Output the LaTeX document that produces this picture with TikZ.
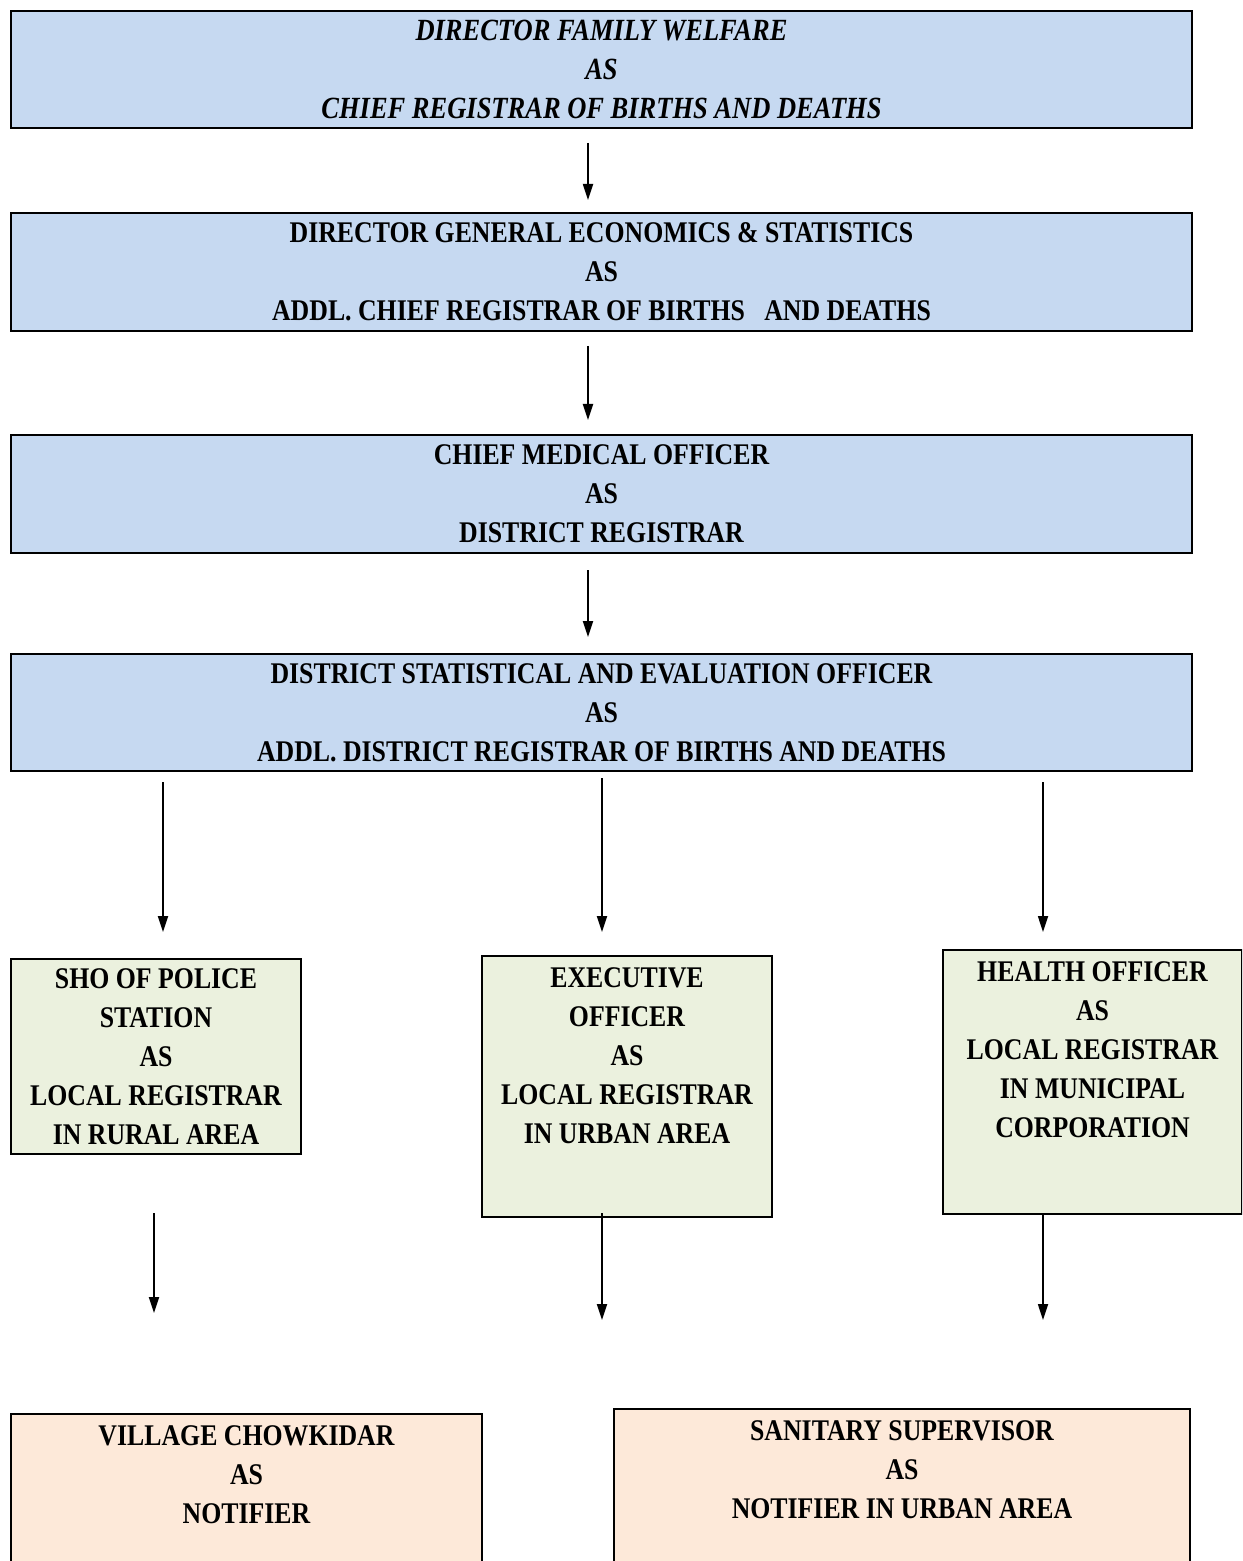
\documentclass[tikz,border=0pt]{standalone}
\usepackage{fontspec}
\setmainfont{Liberation Serif}[FakeStretch=0.86]
\usetikzlibrary{arrows.meta}

\definecolor{headblue}{HTML}{C6D9F1}
\definecolor{localgreen}{HTML}{EBF1DE}
\definecolor{notifpeach}{HTML}{FDE9D9}

\begin{document}
\begin{tikzpicture}[x=0.5pt, y=-0.5pt,
    box/.style={draw, line width=1pt, anchor=north west, align=center, inner xsep=2pt, inner ysep=2.5pt,
        font=\fontsize{15}{19.5}\selectfont\bfseries},
    topbox/.style={box, inner ysep=6pt},
    link/.style={line width=0.9pt, -{Triangle[length=8pt, width=5pt]}}]
\useasboundingbox (0,0) rectangle (1242,1561);
\clip (0,0) rectangle (1242,1561);

% Registrars in the chain
\node[box, fill=headblue, minimum width=590.5pt, minimum height=58.5pt, font=\fontsize{15.4}{19.5}\selectfont\bfseries\itshape] (dfw) at (10,10)
    {DIRECTOR FAMILY WELFARE\\ AS\\ CHIEF REGISTRAR OF BIRTHS AND DEATHS};
\node[box, fill=headblue, minimum width=590.5pt, minimum height=59pt] (dges) at (10,212)
    {DIRECTOR GENERAL ECONOMICS \& STATISTICS\\ AS\\ ADDL. CHIEF REGISTRAR OF BIRTHS\ \ \ AND DEATHS};
\node[box, fill=headblue, minimum width=590.5pt, minimum height=59pt] (cmo) at (10,434)
    {CHIEF MEDICAL OFFICER\\ AS\\ DISTRICT REGISTRAR};
\node[box, fill=headblue, minimum width=590.5pt, minimum height=58.5pt] (dseo) at (10,653)
    {DISTRICT STATISTICAL AND EVALUATION OFFICER\\ AS\\ ADDL. DISTRICT REGISTRAR OF BIRTHS AND DEATHS};

% Local registrars
\node[box, fill=localgreen, minimum width=145pt, minimum height=97.5pt] (sho) at (10,958)
    {SHO OF POLICE\\ STATION\\ AS\\ LOCAL REGISTRAR\\ IN RURAL AREA};
\node[topbox, fill=localgreen, minimum width=145pt, text depth=30.5pt] (exec) at (481,955)
    {EXECUTIVE\\ OFFICER\\ AS\\ LOCAL REGISTRAR\\ IN URBAN AREA};
\node[topbox, fill=localgreen, minimum width=149.5pt, text depth=32pt] (health) at (942,949)
    {HEALTH OFFICER\\ AS\\ LOCAL REGISTRAR\\ IN MUNICIPAL\\ CORPORATION};

% Notifiers
\node[topbox, fill=notifpeach, minimum width=235.5pt, text depth=33pt] (chowkidar) at (10,1413)
    {VILLAGE CHOWKIDAR\\ AS\\ NOTIFIER};
\node[topbox, fill=notifpeach, minimum width=288pt, text depth=35pt] (sanitary) at (613,1408)
    {SANITARY SUPERVISOR\\ AS\\ NOTIFIER IN URBAN AREA};

% Arrows
\coordinate (dfw-out) at (588,143);    \coordinate (dges-in) at (588,200);
\coordinate (dges-out) at (588,346);   \coordinate (cmo-in) at (588,420);
\coordinate (cmo-out) at (588,570);    \coordinate (dseo-in) at (588,637);
\draw[link] (dfw-out) -- (dges-in);
\draw[link] (dges-out) -- (cmo-in);
\draw[link] (cmo-out) -- (dseo-in);

\coordinate (dseo-out1) at (163,782);  \coordinate (sho-in) at (163,932);
\coordinate (dseo-out2) at (602,778);  \coordinate (exec-in) at (602,932);
\coordinate (dseo-out3) at (1043,782); \coordinate (health-in) at (1043,932);
\draw[link] (dseo-out1) -- (sho-in);
\draw[link] (dseo-out2) -- (exec-in);
\draw[link] (dseo-out3) -- (health-in);

\coordinate (sho-out) at (154,1213);    \coordinate (chowkidar-in) at (154,1313);
\coordinate (exec-out) at (602,1213);   \coordinate (exec-end) at (602,1320);
\coordinate (health-out) at (1043,1213); \coordinate (health-end) at (1043,1320);
\draw[link] (sho-out) -- (chowkidar-in);
\draw[link] (exec-out) -- (exec-end);
\draw[link] (health-out) -- (health-end);
\end{tikzpicture}
\end{document}
